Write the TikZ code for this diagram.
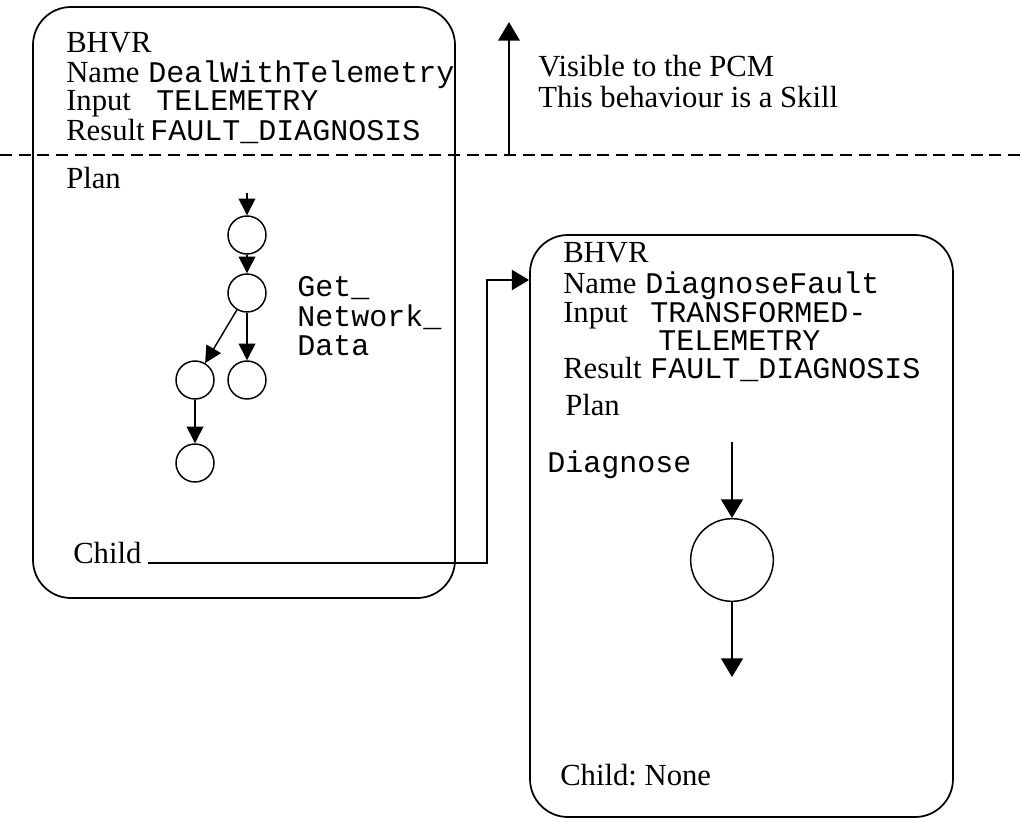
\documentclass[tikz,border=0pt]{standalone}
\usepackage{fontspec}
\setmainfont{Liberation Serif}
\setmonofont{Liberation Mono}
\usetikzlibrary{arrows.meta}
\begin{document}
\begin{tikzpicture}[x=0.75pt,y=-0.75pt,
  txt/.style={anchor=base west,inner sep=0pt,font=\fontsize{23}{27}\selectfont},
  mono/.style={anchor=base west,inner sep=0pt,font=\fontsize{22.5}{27}\selectfont\ttfamily},
  bhvr/.style={draw,line width=1.3pt,rounded corners=28.5pt,inner sep=0pt},
  small/.style={draw,circle,line width=1.1pt,minimum size=28.5pt,inner sep=0pt},
  big/.style={draw,circle,line width=1.1pt,minimum size=62pt,inner sep=0pt},
  sarrow/.style={line width=1.1pt,-{Triangle[width=12.5pt,length=12.5pt]}},
  barrow/.style={line width=1.2pt,-{Triangle[width=16.5pt,length=14pt]}},
  thick arrow/.style={line width=2pt,-{Triangle[width=16pt,length=14pt]}},
  sep/.style={line width=1.9pt,dash pattern=on 9pt off 5pt}]
\useasboundingbox (0,0) rectangle (1022,818);

% boxes
\node[bhvr,minimum width=316.5pt,minimum height=443.25pt] (lbox) at (244,302.5) {};
\node[bhvr,minimum width=317.25pt,minimum height=436.5pt] (rbox) at (741.5,526) {};

% separator and visibility arrow
\coordinate (sepL) at (0,155);
\coordinate (sepR) at (1022,155);
\draw[sep] (sepL) -- (sepR);
\coordinate (upA) at (509,155);
\coordinate (upB) at (509,22);
\draw[thick arrow] (upA) -- (upB);
\node[txt] (vis) at (538,76) {Visible to the PCM};
\node[txt] (skill) at (538,107) {This behaviour is a Skill};

% left box text
\node[txt] (lb) at (66,52) {BHVR};
\node[txt] (ln) at (66,82) {Name};
\node[mono] (lnv) at (148,82) {DealWithTelemetry};
\node[txt] (li) at (66,110) {Input};
\node[mono] (liv) at (156,110) {TELEMETRY};
\node[txt] (lr) at (66,140) {Result};
\node[mono] (lrv) at (150,140) {FAULT\_DIAGNOSIS};
\node[txt] (lp) at (66,188) {Plan};
\node[mono] (g1) at (297,296) {Get\_};
\node[mono] (g2) at (297,326) {Network\_};
\node[mono] (g3) at (297,355) {Data};
\node[txt] (lc) at (73,563) {Child};

% left plan graph
\coordinate (ltop) at (247,193);
\node[small] (c1) at (247,235) {};
\node[small] (c2) at (247,293) {};
\node[small] (c3) at (195,380) {};
\node[small] (c4) at (247,380) {};
\node[small] (c5) at (195,463) {};
\draw[sarrow] (ltop) -- (c1);
\draw[sarrow] (c1) -- (c2);
\draw[sarrow] (c2) -- (c3);
\draw[sarrow] (c2) -- (c4);
\draw[sarrow] (c3) -- (c5);

% child connector
\coordinate (cs) at (148,563);
\coordinate (cm1) at (487,563);
\coordinate (cm2) at (487,280);
\draw[line width=1.8pt,-{Triangle[width=15pt,length=13pt]}] (cs) -- (cm1) -- (cm2) -- (rbox.west |- cm2);

% right box text
\node[txt] (rb) at (563,262) {BHVR};
\node[txt] (rn) at (563,293) {Name};
\node[mono] (rnv) at (645,293) {DiagnoseFault};
\node[txt] (ri) at (563,322) {Input};
\node[mono] (riv) at (650,322) {TRANSFORMED-};
\node[mono] (riv2) at (658,350) {TELEMETRY};
\node[txt] (rr) at (563,378) {Result};
\node[mono] (rrv) at (650,378) {FAULT\_DIAGNOSIS};
\node[txt] (rp) at (565,415) {Plan};
\node[mono] (dg) at (547,472) {Diagnose};
\node[txt] (rc) at (560,785) {Child:\ None};

% right plan
\coordinate (din) at (732,442);
\node[big] (bc) at (732,560) {};
\coordinate (dout) at (732,677);
\draw[barrow] (din) -- (bc);
\draw[barrow] (bc) -- (dout);
\end{tikzpicture}
\end{document}
